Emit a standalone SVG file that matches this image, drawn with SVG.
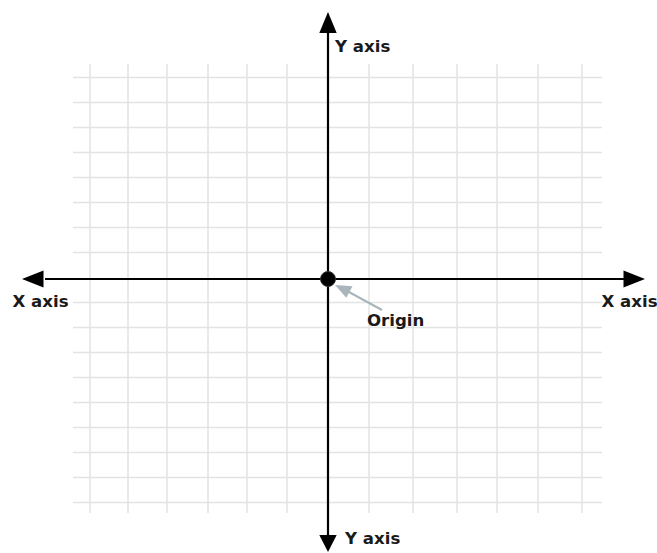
<svg xmlns="http://www.w3.org/2000/svg" width="657" height="553" viewBox="0 0 657 553">
<style>
.grid line{stroke:#e3e3e3;stroke-width:1.5}
.axis{stroke:#000;stroke-width:2.2;fill:none}
.lbl{font-family:"DejaVu Sans",Verdana,sans-serif;font-weight:bold;font-size:16.6px;fill:#1a1a1a}
</style>
<rect width="657" height="553" fill="#fff"/>
<g id="grid" class="grid">
<line x1="90" y1="64" x2="90" y2="513"/>
<line x1="128" y1="64" x2="128" y2="513"/>
<line x1="167" y1="64" x2="167" y2="513"/>
<line x1="208" y1="64" x2="208" y2="513"/>
<line x1="247" y1="64" x2="247" y2="513"/>
<line x1="287" y1="64" x2="287" y2="513"/>
<line x1="369" y1="64" x2="369" y2="513"/>
<line x1="413" y1="64" x2="413" y2="513"/>
<line x1="457" y1="64" x2="457" y2="513"/>
<line x1="497" y1="64" x2="497" y2="513"/>
<line x1="538" y1="64" x2="538" y2="513"/>
<line x1="582" y1="64" x2="582" y2="513"/>
<line x1="73" y1="77.5" x2="602" y2="77.5"/>
<line x1="73" y1="102.5" x2="602" y2="102.5"/>
<line x1="73" y1="127.5" x2="602" y2="127.5"/>
<line x1="73" y1="152.5" x2="602" y2="152.5"/>
<line x1="73" y1="177.5" x2="602" y2="177.5"/>
<line x1="73" y1="202.5" x2="602" y2="202.5"/>
<line x1="73" y1="227.5" x2="602" y2="227.5"/>
<line x1="73" y1="252.5" x2="602" y2="252.5"/>
<line x1="73" y1="302.5" x2="602" y2="302.5"/>
<line x1="73" y1="327.5" x2="602" y2="327.5"/>
<line x1="73" y1="352.5" x2="602" y2="352.5"/>
<line x1="73" y1="377.5" x2="602" y2="377.5"/>
<line x1="73" y1="402.5" x2="602" y2="402.5"/>
<line x1="73" y1="427.5" x2="602" y2="427.5"/>
<line x1="73" y1="452.5" x2="602" y2="452.5"/>
<line x1="73" y1="477.5" x2="602" y2="477.5"/>
<line x1="73" y1="502.5" x2="602" y2="502.5"/>
</g>
<g id="connectors">
<line class="axis" x1="328" y1="279" x2="328" y2="30"/>
<path d="M328,12 L336.7,33 L319.3,33 z" fill="#000"/>
<line class="axis" x1="328" y1="279" x2="328" y2="536"/>
<path d="M328,552 L336.7,535 L319.3,535 z" fill="#000"/>
<line class="axis" x1="328" y1="279" x2="45" y2="279"/>
<path d="M22,279 L43.5,270.5 L43.5,287.5 z" fill="#000"/>
<line class="axis" x1="328" y1="279" x2="624" y2="279"/>
<path d="M645,279 L623.5,270.5 L623.5,287.5 z" fill="#000"/>
<line x1="382" y1="310" x2="348" y2="291.5" stroke="#a9b4bb" stroke-width="2"/>
<path d="M335,285 L352.5,286.3 L346.3,297.7 z" fill="#a9b4bb"/>
</g>
<g id="origin">
<circle cx="328" cy="279" r="7.5" fill="#000" stroke="#333" stroke-width="1"/>
<text class="lbl" x="367" y="326">Origin</text>
</g>
<g id="y-top"><text class="lbl" x="335" y="52">Y axis</text></g>
<g id="y-bottom"><text class="lbl" x="345" y="544">Y axis</text></g>
<g id="x-left"><text class="lbl" x="12.5" y="307">X axis</text></g>
<g id="x-right"><text class="lbl" x="601.5" y="307">X axis</text></g>
</svg>
